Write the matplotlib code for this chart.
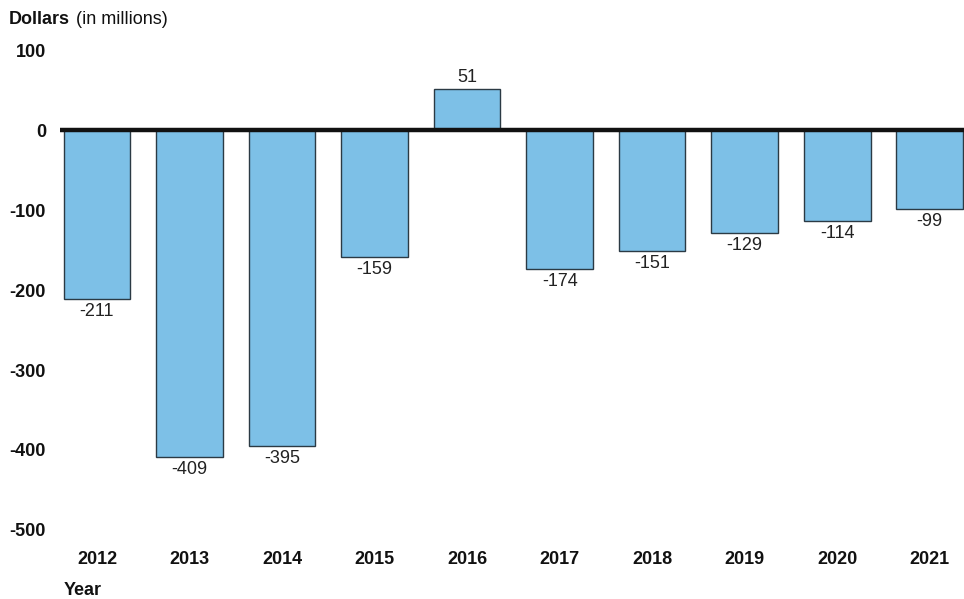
import matplotlib.pyplot as plt

years = ["2012", "2013", "2014", "2015", "2016", "2017", "2018", "2019", "2020", "2021"]
values = [-211, -409, -395, -159, 51, -174, -151, -129, -114, -99]
yticks = [100, 0, -100, -200, -300, -400, -500]

plt.rcParams["font.family"] = ["Liberation Sans", "DejaVu Sans"]

fig = plt.figure(figsize=(9.64, 5.99), dpi=100)
ax = fig.add_axes([0.0622, 0.1152, 0.9378, 0.8013])

x = list(range(len(years)))
bars = ax.bar(x, values, width=0.72, color="#7dc0e7", edgecolor="#2b3a44", linewidth=1.0, zorder=2)

for xi, v in zip(x, values):
    if v < 0:
        ax.annotate(str(v), (xi, v), xytext=(0, -3), textcoords="offset points",
                    ha="center", va="top", fontsize=13, color="#222222")
    else:
        ax.annotate(str(v), (xi, v), xytext=(0, 2), textcoords="offset points",
                    ha="center", va="bottom", fontsize=13, color="#222222")

ax.axhline(0, color="#111111", linewidth=3.2, zorder=3)

ax.set_xlim(-0.4, 9.37)
ax.set_ylim(-500, 100)
ax.set_yticks(yticks)
ax.set_yticklabels([str(t) for t in yticks], fontsize=13, fontweight="bold", color="#111111")
ax.set_xticks(x)
ax.set_xticklabels(years, fontsize=13, fontweight="bold", color="#111111")
ax.tick_params(axis="both", length=0)
ax.tick_params(axis="y", pad=10)
ax.tick_params(axis="x", pad=15)
for s in ax.spines.values():
    s.set_visible(False)

fig.text(0.009, 0.967, "Dollars", fontsize=13, fontweight="bold", va="center", color="#111111")
fig.text(0.079, 0.967, "(in millions)", fontsize=13, va="center", color="#111111")
fig.text(0.066, 0.015, "Year", fontsize=13, fontweight="bold", va="center", color="#111111")

fig.savefig("out.png", dpi=100)
